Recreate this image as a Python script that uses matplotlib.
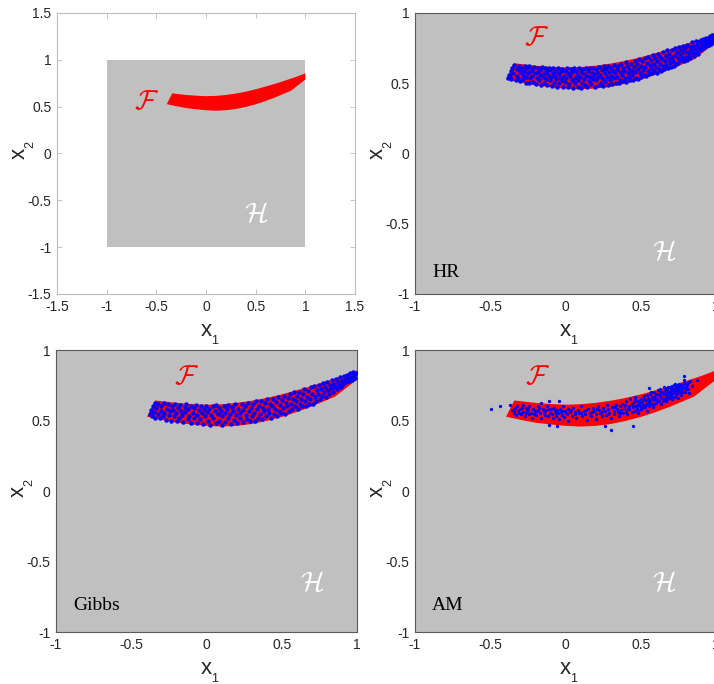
import numpy as np
import matplotlib
matplotlib.use("Agg")
import matplotlib.pyplot as plt
from matplotlib.ticker import FuncFormatter

plt.rcParams['font.family'] = ['Liberation Sans', 'DejaVu Sans']
plt.rcParams['axes.unicode_minus'] = False

# feasible region F (band), upper edge left->right, lower edge left->right
F_UPPER_X = [-0.34, -0.2, -0.1, 0.0, 0.1, 0.2, 0.3, 0.4, 0.5, 0.6, 0.7, 0.8, 0.9, 1.0]
F_UPPER_Y = [0.642, 0.625, 0.617, 0.612, 0.615, 0.625, 0.640, 0.660, 0.685, 0.715, 0.745, 0.780, 0.815, 0.855]
F_LOWER_X = [-0.395, -0.3, -0.2, -0.1, 0.0, 0.1, 0.2, 0.3, 0.4, 0.5, 0.6, 0.7, 0.855, 1.0]
F_LOWER_Y = [0.527, 0.505, 0.485, 0.472, 0.462, 0.457, 0.462, 0.475, 0.497, 0.525, 0.560, 0.600, 0.670, 0.790]

# samples: hit-and-run
HR_PTS = [
    (-0.385, 0.535), (-0.375, 0.560), (-0.37, 0.545), (-0.365, 0.590), (-0.36, 0.530), (-0.355, 0.605), (-0.35, 0.575), (-0.345, 0.630),
    (-0.33, 0.520), (-0.325, 0.555), (-0.32, 0.600), (-0.315, 0.540), (-0.31, 0.625), (-0.305, 0.580), (-0.30, 0.515), (-0.295, 0.610),
    (-0.285, 0.560), (-0.28, 0.530), (-0.275, 0.590), (-0.27, 0.620), (-0.265, 0.505), (-0.26, 0.545), (-0.255, 0.605), (-0.25, 0.575),
    (-0.245, 0.500), (-0.24, 0.620), (-0.235, 0.535), (-0.23, 0.585), (-0.225, 0.555), (-0.22, 0.600), (-0.215, 0.510), (-0.21, 0.615), (-0.205, 0.570),
    (-0.195, 0.495), (-0.19, 0.540), (-0.185, 0.610), (-0.18, 0.580), (-0.175, 0.520), (-0.17, 0.560), (-0.165, 0.600), (-0.16, 0.490), (-0.155, 0.615),
    (-0.15, 0.545), (-0.145, 0.575), (-0.14, 0.505), (-0.135, 0.605), (-0.13, 0.530), (-0.125, 0.590), (-0.12, 0.485), (-0.115, 0.560), (-0.11, 0.610),
    (-0.105, 0.520), (-0.10, 0.595), (-0.095, 0.545), (-0.09, 0.480), (-0.085, 0.575), (-0.08, 0.605), (-0.075, 0.505), (-0.07, 0.555), (-0.065, 0.590), (-0.06, 0.530),
    (-0.055, 0.475), (-0.05, 0.610), (-0.045, 0.565), (-0.04, 0.500), (-0.035, 0.540), (-0.03, 0.585), (-0.025, 0.520), (-0.02, 0.600), (-0.015, 0.475), (-0.01, 0.555),
    (-0.005, 0.590), (0.0, 0.510), (0.005, 0.535), (0.01, 0.605), (0.015, 0.470), (0.02, 0.570), (0.025, 0.495), (0.03, 0.550), (0.035, 0.600), (0.04, 0.525),
    (0.045, 0.580), (0.05, 0.468), (0.055, 0.610), (0.06, 0.540), (0.065, 0.500), (0.07, 0.590), (0.075, 0.560), (0.08, 0.475), (0.085, 0.520), (0.09, 0.605),
    (0.095, 0.545), (0.10, 0.580), (0.105, 0.465), (0.11, 0.505), (0.115, 0.600), (0.12, 0.530), (0.125, 0.565), (0.13, 0.485), (0.135, 0.610), (0.14, 0.550),
    (0.145, 0.470), (0.15, 0.590), (0.155, 0.515), (0.16, 0.545), (0.165, 0.605), (0.17, 0.495), (0.175, 0.575), (0.18, 0.530), (0.185, 0.612), (0.19, 0.560),
    (0.195, 0.475), (0.20, 0.600), (0.205, 0.520), (0.21, 0.580), (0.215, 0.545), (0.22, 0.490), (0.225, 0.615), (0.23, 0.560), (0.235, 0.505), (0.24, 0.595),
    (0.245, 0.535), (0.25, 0.480), (0.255, 0.620), (0.26, 0.570), (0.265, 0.515), (0.27, 0.600), (0.275, 0.545), (0.28, 0.490), (0.285, 0.625), (0.29, 0.580),
    (0.295, 0.520), (0.30, 0.555), (0.305, 0.610), (0.31, 0.495), (0.315, 0.590), (0.32, 0.535), (0.325, 0.630), (0.33, 0.570), (0.335, 0.505), (0.34, 0.600),
    (0.345, 0.545), (0.35, 0.625), (0.355, 0.500), (0.36, 0.580), (0.365, 0.525), (0.37, 0.640), (0.375, 0.560), (0.38, 0.610), (0.385, 0.515), (0.39, 0.590),
    (0.395, 0.540), (0.40, 0.650), (0.405, 0.510), (0.41, 0.620), (0.415, 0.570), (0.42, 0.545), (0.425, 0.600), (0.43, 0.525), (0.435, 0.640), (0.44, 0.585),
    (0.445, 0.560), (0.45, 0.520), (0.455, 0.615), (0.46, 0.660), (0.465, 0.580), (0.47, 0.540), (0.475, 0.635), (0.48, 0.600), (0.485, 0.530), (0.49, 0.670),
    (0.495, 0.570), (0.50, 0.625), (0.505, 0.545), (0.51, 0.655), (0.515, 0.595), (0.52, 0.560), (0.525, 0.680), (0.53, 0.615), (0.535, 0.550), (0.54, 0.645),
    (0.545, 0.585), (0.55, 0.690), (0.555, 0.565), (0.56, 0.630), (0.565, 0.605), (0.57, 0.665), (0.575, 0.575), (0.58, 0.700), (0.585, 0.640), (0.59, 0.590),
    (0.595, 0.680), (0.60, 0.615), (0.605, 0.575), (0.61, 0.655), (0.615, 0.705), (0.62, 0.600), (0.625, 0.640), (0.63, 0.690), (0.635, 0.590), (0.64, 0.670),
    (0.645, 0.620), (0.65, 0.720), (0.655, 0.600), (0.66, 0.655), (0.665, 0.695), (0.67, 0.630), (0.675, 0.735), (0.68, 0.610), (0.685, 0.675), (0.69, 0.710),
    (0.695, 0.645), (0.70, 0.615), (0.705, 0.735), (0.71, 0.690), (0.715, 0.660), (0.72, 0.625), (0.725, 0.750), (0.73, 0.700), (0.735, 0.640), (0.74, 0.725),
    (0.745, 0.680), (0.75, 0.645), (0.755, 0.755), (0.76, 0.705), (0.765, 0.665), (0.77, 0.735), (0.775, 0.690), (0.78, 0.765), (0.785, 0.660), (0.79, 0.720),
    (0.795, 0.750), (0.80, 0.690), (0.805, 0.665), (0.81, 0.775), (0.815, 0.725), (0.82, 0.700), (0.825, 0.760), (0.83, 0.680), (0.835, 0.740), (0.84, 0.790),
    (0.845, 0.715), (0.85, 0.765), (0.855, 0.695), (0.86, 0.745), (0.865, 0.800), (0.87, 0.725), (0.875, 0.770), (0.88, 0.710), (0.885, 0.790), (0.89, 0.750),
    (0.895, 0.735), (0.90, 0.805), (0.905, 0.770), (0.91, 0.745), (0.915, 0.815), (0.92, 0.785), (0.925, 0.755), (0.93, 0.800), (0.935, 0.825), (0.94, 0.770),
    (0.945, 0.790), (0.95, 0.815), (0.955, 0.770), (0.96, 0.835), (0.965, 0.800), (0.97, 0.780), (0.975, 0.845), (0.98, 0.815), (0.985, 0.795), (0.99, 0.840),
]

# samples: Gibbs
GIBBS_PTS = [
    (-0.375, 0.545), (-0.37, 0.575), (-0.36, 0.530), (-0.355, 0.600), (-0.35, 0.560), (-0.345, 0.625), (-0.34, 0.520), (-0.335, 0.590),
    (-0.325, 0.545), (-0.32, 0.615), (-0.31, 0.515), (-0.305, 0.570), (-0.30, 0.600), (-0.29, 0.535), (-0.285, 0.625), (-0.28, 0.555),
    (-0.27, 0.505), (-0.265, 0.585), (-0.255, 0.615), (-0.25, 0.540), (-0.245, 0.565), (-0.235, 0.500), (-0.23, 0.605), (-0.225, 0.575),
    (-0.215, 0.530), (-0.21, 0.620), (-0.20, 0.555), (-0.195, 0.495), (-0.19, 0.590), (-0.18, 0.515), (-0.175, 0.610), (-0.17, 0.570),
    (-0.16, 0.540), (-0.155, 0.490), (-0.145, 0.595), (-0.14, 0.560), (-0.135, 0.615), (-0.125, 0.510), (-0.12, 0.580), (-0.115, 0.535),
    (-0.105, 0.605), (-0.10, 0.485), (-0.09, 0.555), (-0.085, 0.590), (-0.08, 0.520), (-0.07, 0.610), (-0.065, 0.540), (-0.06, 0.480),
    (-0.05, 0.575), (-0.045, 0.510), (-0.035, 0.600), (-0.03, 0.550), (-0.025, 0.475), (-0.015, 0.585), (-0.01, 0.530), (0.0, 0.605),
    (0.005, 0.560), (0.01, 0.495), (0.02, 0.580), (0.025, 0.470), (0.03, 0.540), (0.04, 0.600), (0.045, 0.515), (0.055, 0.565),
    (0.06, 0.480), (0.065, 0.610), (0.075, 0.545), (0.08, 0.590), (0.085, 0.500), (0.095, 0.570), (0.10, 0.530), (0.105, 0.470),
    (0.115, 0.605), (0.12, 0.555), (0.125, 0.490), (0.135, 0.580), (0.14, 0.520), (0.145, 0.610), (0.155, 0.545), (0.16, 0.475),
    (0.17, 0.595), (0.175, 0.565), (0.185, 0.505), (0.19, 0.615), (0.195, 0.540), (0.205, 0.480), (0.21, 0.585), (0.22, 0.555),
    (0.225, 0.520), (0.235, 0.620), (0.24, 0.575), (0.245, 0.490), (0.255, 0.600), (0.26, 0.540), (0.27, 0.510), (0.275, 0.625),
    (0.28, 0.565), (0.29, 0.495), (0.295, 0.590), (0.30, 0.530), (0.31, 0.615), (0.315, 0.555), (0.32, 0.500), (0.33, 0.635),
    (0.335, 0.580), (0.34, 0.520), (0.35, 0.605), (0.355, 0.545), (0.36, 0.640), (0.37, 0.510), (0.375, 0.590), (0.38, 0.565),
    (0.39, 0.625), (0.395, 0.530), (0.40, 0.650), (0.41, 0.580), (0.415, 0.555), (0.42, 0.615), (0.43, 0.520), (0.435, 0.600),
    (0.44, 0.655), (0.45, 0.545), (0.455, 0.585), (0.46, 0.630), (0.47, 0.530), (0.475, 0.665), (0.48, 0.570), (0.49, 0.610),
    (0.495, 0.550), (0.50, 0.645), (0.51, 0.590), (0.515, 0.675), (0.52, 0.545), (0.53, 0.625), (0.535, 0.600), (0.54, 0.660),
    (0.55, 0.565), (0.555, 0.690), (0.56, 0.615), (0.57, 0.580), (0.575, 0.650), (0.58, 0.700), (0.59, 0.600), (0.595, 0.635),
    (0.60, 0.675), (0.61, 0.585), (0.615, 0.705), (0.62, 0.620), (0.63, 0.655), (0.635, 0.600), (0.64, 0.690), (0.65, 0.720),
    (0.655, 0.635), (0.66, 0.605), (0.67, 0.670), (0.675, 0.710), (0.68, 0.620), (0.69, 0.650), (0.695, 0.735), (0.70, 0.690),
    (0.71, 0.615), (0.715, 0.745), (0.72, 0.665), (0.73, 0.640), (0.735, 0.715), (0.74, 0.690), (0.75, 0.755), (0.755, 0.650),
    (0.76, 0.725), (0.77, 0.675), (0.775, 0.765), (0.78, 0.700), (0.79, 0.740), (0.795, 0.665), (0.80, 0.770), (0.81, 0.715),
    (0.815, 0.690), (0.82, 0.755), (0.83, 0.730), (0.835, 0.785), (0.84, 0.700), (0.85, 0.760), (0.855, 0.735), (0.86, 0.795),
    (0.87, 0.720), (0.875, 0.775), (0.88, 0.750), (0.89, 0.805), (0.895, 0.735), (0.90, 0.780), (0.91, 0.760), (0.915, 0.815),
    (0.92, 0.790), (0.93, 0.770), (0.935, 0.825), (0.94, 0.800), (0.95, 0.780), (0.955, 0.835), (0.96, 0.810), (0.97, 0.790),
    (0.975, 0.845), (0.98, 0.820), (0.99, 0.800), (0.995, 0.840),
]

# samples: adaptive Metropolis
AM_PTS = [
    (-0.493, 0.579), (-0.432, 0.603), (-0.37, 0.61), (-0.355, 0.575), (-0.345, 0.555), (-0.335, 0.590), (-0.33, 0.540), (-0.32, 0.600),
    (-0.315, 0.565), (-0.30, 0.580), (-0.295, 0.545), (-0.285, 0.610), (-0.28, 0.560), (-0.27, 0.530), (-0.265, 0.590), (-0.255, 0.570),
    (-0.245, 0.545), (-0.24, 0.600), (-0.23, 0.555), (-0.22, 0.520), (-0.215, 0.585), (-0.205, 0.565), (-0.195, 0.540), (-0.185, 0.600),
    (-0.18, 0.575), (-0.17, 0.550), (-0.163, 0.626), (-0.16, 0.515), (-0.15, 0.585), (-0.145, 0.560), (-0.135, 0.540), (-0.13, 0.575),
    (-0.12, 0.600), (-0.115, 0.530), (-0.108, 0.638), (-0.108, 0.468), (-0.10, 0.555), (-0.095, 0.580),
    (-0.09, 0.545), (-0.085, 0.520), (-0.075, 0.590), (-0.07, 0.565), (-0.065, 0.535), (-0.055, 0.575), (-0.054, 0.461), (-0.05, 0.550),
    (-0.043, 0.640), (-0.04, 0.510), (-0.035, 0.585), (-0.03, 0.560), (-0.02, 0.540), (-0.015, 0.600), (-0.01, 0.525), (0.0, 0.570),
    (0.005, 0.550), (0.015, 0.580), (0.02, 0.500), (0.03, 0.560), (0.04, 0.535), (0.05, 0.590), (0.06, 0.545), (0.07, 0.520),
    (0.08, 0.575), (0.09, 0.555), (0.10, 0.600), (0.11, 0.530), (0.12, 0.565), (0.13, 0.545), (0.14, 0.505), (0.15, 0.580),
    (0.16, 0.555), (0.17, 0.535), (0.18, 0.590), (0.19, 0.565), (0.20, 0.545), (0.205, 0.510), (0.215, 0.600), (0.225, 0.575),
    (0.23, 0.555), (0.24, 0.530), (0.25, 0.590), (0.26, 0.461), (0.26, 0.565), (0.27, 0.540), (0.275, 0.610), (0.285, 0.580),
    (0.29, 0.555), (0.30, 0.520), (0.305, 0.433), (0.31, 0.595),
    (0.32, 0.570), (0.325, 0.545), (0.335, 0.610), (0.34, 0.585), (0.35, 0.560), (0.355, 0.530), (0.36, 0.600), (0.37, 0.575),
    (0.375, 0.620), (0.385, 0.550), (0.39, 0.590), (0.40, 0.570), (0.405, 0.635), (0.41, 0.545), (0.42, 0.605), (0.425, 0.580),
    (0.43, 0.650), (0.44, 0.560), (0.445, 0.615), (0.446, 0.461), (0.45, 0.595), (0.455, 0.630), (0.46, 0.570), (0.465, 0.665),
    (0.47, 0.605), (0.475, 0.585), (0.48, 0.640), (0.485, 0.550), (0.49, 0.620), (0.495, 0.600), (0.50, 0.655), (0.505, 0.580),
    (0.51, 0.630), (0.515, 0.610), (0.52, 0.675), (0.525, 0.595), (0.53, 0.645), (0.535, 0.620), (0.54, 0.565), (0.545, 0.660),
    (0.55, 0.635), (0.555, 0.728), (0.555, 0.605), (0.56, 0.685), (0.565, 0.650), (0.57, 0.620), (0.575, 0.670), (0.58, 0.595),
    (0.585, 0.700), (0.59, 0.645), (0.595, 0.665), (0.60, 0.625), (0.605, 0.690), (0.61, 0.655), (0.615, 0.715), (0.62, 0.640),
    (0.625, 0.675), (0.63, 0.700), (0.635, 0.615), (0.64, 0.660), (0.645, 0.690), (0.652, 0.740), (0.655, 0.650), (0.66, 0.710),
    (0.665, 0.675), (0.67, 0.635), (0.675, 0.725), (0.68, 0.690), (0.685, 0.660), (0.69, 0.705), (0.695, 0.740), (0.70, 0.675),
    (0.705, 0.650), (0.71, 0.720), (0.715, 0.695), (0.72, 0.755), (0.725, 0.670), (0.73, 0.710), (0.735, 0.735), (0.74, 0.690),
    (0.745, 0.660), (0.75, 0.725), (0.755, 0.760), (0.76, 0.700), (0.765, 0.740), (0.77, 0.680), (0.775, 0.720), (0.78, 0.750),
    (0.79, 0.816), (0.79, 0.790), (0.795, 0.705), (0.80, 0.740), (0.81, 0.765), (0.815, 0.720), (0.82, 0.695), (0.83, 0.780),
    (0.84, 0.745), (0.874, 0.787),
    (0.455, 0.600), (0.462, 0.645), (0.478, 0.612), (0.488, 0.575), (0.502, 0.630), (0.512, 0.595), (0.522, 0.650), (0.532, 0.610),
    (0.542, 0.680), (0.548, 0.620), (0.562, 0.640), (0.568, 0.700), (0.578, 0.655), (0.588, 0.615), (0.598, 0.690), (0.602, 0.650),
    (0.612, 0.635), (0.618, 0.680), (0.628, 0.720), (0.632, 0.660), (0.642, 0.700), (0.648, 0.640), (0.658, 0.690), (0.662, 0.730),
    (0.672, 0.655), (0.678, 0.705), (0.682, 0.740), (0.688, 0.680), (0.698, 0.715), (0.702, 0.695), (0.708, 0.745), (0.712, 0.670),
    (0.718, 0.725), (0.722, 0.700), (0.728, 0.760), (0.732, 0.690), (0.738, 0.750), (0.742, 0.715), (0.748, 0.700), (0.752, 0.740),
    (0.758, 0.725), (0.768, 0.755), (0.772, 0.705), (0.782, 0.730), (0.788, 0.765), (0.798, 0.725), (0.805, 0.750), (0.822, 0.770),
    (-0.34, 0.570), (-0.31, 0.555), (-0.29, 0.590), (-0.26, 0.550), (-0.25, 0.585), (-0.21, 0.545), (-0.19, 0.570), (-0.175, 0.590),
    (-0.14, 0.555), (-0.11, 0.585), (-0.06, 0.555), (-0.025, 0.570), (0.01, 0.545), (0.035, 0.575), (0.065, 0.560), (0.105, 0.550),
    (0.135, 0.575), (0.175, 0.560), (0.21, 0.580), (0.245, 0.560), (0.28, 0.545), (0.33, 0.595), (0.365, 0.555), (0.395, 0.610),
    (0.415, 0.590),
]

GRAY = '#c0c0c0'
TEXT = '#262626'


def fmt(v, pos):
    return f'{v:g}'


def axis_labels(ax):
    # x_1 / x_2 built from two texts so the subscript stays small and low
    kw = dict(xycoords='axes fraction', textcoords='offset pixels',
              color=TEXT, va='baseline', annotation_clip=False)
    ax.annotate('x', xy=(0.5, 0), xytext=(0, -42), fontsize=16, ha='center', **kw)
    ax.annotate('1', xy=(0.5, 0), xytext=(5, -50), fontsize=9, ha='left', **kw)
    ax.annotate('x', xy=(0, 0.5), xytext=(-32, 0), fontsize=16, ha='center',
                rotation=90, rotation_mode='anchor', **kw)
    ax.annotate('2', xy=(0, 0.5), xytext=(-24, 5), fontsize=9, ha='left',
                rotation=90, rotation_mode='anchor', **kw)


def style_axes(ax, lim, ticks, edge, tick_len):
    ax.set_xlim(-lim, lim)
    ax.set_ylim(-lim, lim)
    ax.set_xticks(ticks)
    ax.set_yticks(ticks)
    ax.xaxis.set_major_formatter(FuncFormatter(fmt))
    ax.yaxis.set_major_formatter(FuncFormatter(fmt))
    ax.tick_params(direction='in', length=tick_len, width=0.6, color=edge,
                   labelsize=10, labelcolor=TEXT, pad=4,
                   top=tick_len > 0, right=tick_len > 0)
    for s in ax.spines.values():
        s.set_color(edge)
        s.set_linewidth(0.8)
    axis_labels(ax)


def draw_band(ax):
    xs = list(F_UPPER_X) + list(F_LOWER_X[::-1])
    ys = list(F_UPPER_Y) + list(F_LOWER_Y[::-1])
    ax.fill(xs, ys, color='red', lw=0, zorder=2)


def set_labels(ax, f_xy, h_xy):
    ax.text(*f_xy, r'$\mathcal{F}$', color='red', fontsize=20,
            math_fontfamily='cm', ha='center', va='center', zorder=5)
    ax.text(*h_xy, r'$\mathcal{H}$', color='white', fontsize=20,
            math_fontfamily='cm', ha='center', va='center', zorder=5)


def sample_panel(ax, pts, name, f_xy, h_xy, name_y, msize):
    ax.set_facecolor(GRAY)
    draw_band(ax)
    arr = np.array(pts)
    ax.plot(arr[:, 0], arr[:, 1], 'o', color='blue', markersize=msize,
            markeredgewidth=0, zorder=3)
    set_labels(ax, f_xy, h_xy)
    ax.text(-0.885, name_y, name, family='Liberation Serif', fontsize=14,
            color='black', ha='left', va='center', zorder=5)
    style_axes(ax, 1, [-1, -0.5, 0, 0.5, 1], '#5a5a5a', 0)


fig = plt.figure(figsize=(7.14, 6.84), dpi=100)

# box H with the band F inside
ax0 = fig.add_axes([0.0798, 0.5702, 0.4174, 0.4108])
ax0.fill([-1, 1, 1, -1], [-1, -1, 1, 1], color=GRAY, lw=0, zorder=1)
draw_band(ax0)
set_labels(ax0, (-0.60, 0.55), (0.51, -0.655))
style_axes(ax0, 1.5, [-1.5, -1, -0.5, 0, 0.5, 1, 1.5], '#bdbdbd', 3.5)

ax1 = fig.add_axes([0.5812, 0.5702, 0.4216, 0.4108])
sample_panel(ax1, HR_PTS, 'HR', (-0.19, 0.82), (0.655, -0.71), -0.85, 3.2)

ax2 = fig.add_axes([0.0784, 0.0760, 0.4216, 0.4123])
sample_panel(ax2, GIBBS_PTS, 'Gibbs', (-0.135, 0.805), (0.70, -0.66), -0.815, 3.2)

ax3 = fig.add_axes([0.5812, 0.0760, 0.4216, 0.4123])
sample_panel(ax3, AM_PTS, 'AM', (-0.185, 0.805), (0.655, -0.66), -0.815, 2.4)

fig.savefig('out.png', dpi=100)
